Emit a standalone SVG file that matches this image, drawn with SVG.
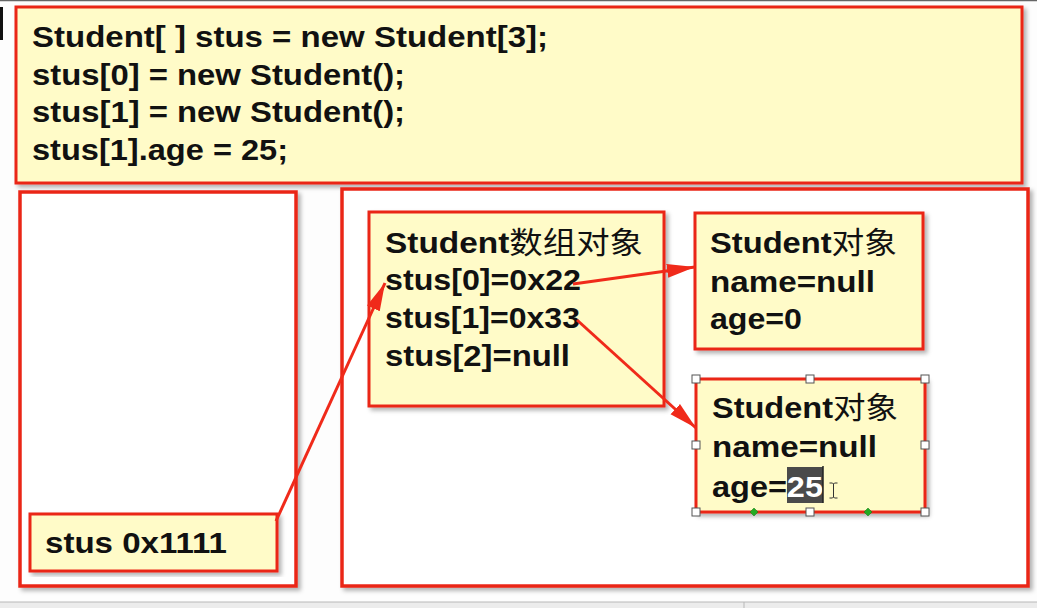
<svg xmlns="http://www.w3.org/2000/svg" width="1037" height="608" viewBox="0 0 1037 608">
<defs>
<filter id="sh" x="-5%" y="-5%" width="110%" height="115%">
<feDropShadow dx="3" dy="3" stdDeviation="2" flood-color="#000" flood-opacity="0.3"/>
</filter>
<marker id="ah" markerUnits="userSpaceOnUse" markerWidth="30" markerHeight="16" refX="28" refY="8" orient="auto">
<path d="M0,1 L28,8 L0,15 Z" fill="#F02A1A"/>
</marker>
<style>
.box{fill:#FFFBC8;stroke:#EA2619;stroke-width:3;filter:url(#sh)}
.frame{fill:#FFFFFF;stroke:#EA2619;stroke-width:3.5;filter:url(#sh)}
.t{font-family:"Liberation Sans",Arial,"Noto Sans CJK SC",sans-serif;font-size:30px;font-weight:bold;fill:#111}
.cjk{font-family:"Noto Sans CJK SC",sans-serif;font-weight:normal}
.conn{stroke:#F02A1A;stroke-width:3;fill:none;marker-end:url(#ah)}
.hd{fill:#fff;stroke:#555;stroke-width:1}
.gd{fill:#22AA22;stroke:#117711;stroke-width:0.5}
</style>
</defs>
<rect x="0" y="0" width="1037" height="608" fill="#FDFDFD"/>
<line x1="0" y1="0.5" x2="1037" y2="0.5" stroke="#666" stroke-width="1.5"/>
<rect x="0" y="7" width="3" height="33" fill="#111"/>
<rect x="0" y="602" width="1037" height="6" fill="#ECECEC"/>
<line x1="0" y1="602" x2="1037" y2="602" stroke="#B8B8B8" stroke-width="1"/>
<line x1="744" y1="602" x2="744" y2="608" stroke="#B8B8B8" stroke-width="1"/>

<g id="code">
<rect class="box" x="16" y="7" width="1006" height="176"/>
<text class="t" x="32" y="47" textLength="516" lengthAdjust="spacingAndGlyphs">Student[ ] stus = new Student[3];</text>
<text class="t" x="32" y="85" textLength="373" lengthAdjust="spacingAndGlyphs">stus[0] = new Student();</text>
<text class="t" x="32" y="122" textLength="373" lengthAdjust="spacingAndGlyphs">stus[1] = new Student();</text>
<text class="t" x="32" y="160" textLength="256" lengthAdjust="spacingAndGlyphs">stus[1].age = 25;</text>
</g>

<g id="stack">
<rect class="frame" x="20" y="192" width="276" height="394"/>
</g>

<g id="heap">
<rect class="frame" x="342" y="189" width="686" height="397"/>
</g>

<g id="stusVar">
<rect class="box" x="30" y="514" width="247" height="57"/>
<text class="t" x="45" y="553" textLength="182" lengthAdjust="spacingAndGlyphs">stus 0x1111</text>
</g>

<g id="arrayObj">
<rect class="box" x="369" y="212" width="295" height="194"/>
<text class="t" x="385" y="253" textLength="258" lengthAdjust="spacingAndGlyphs">Student<tspan class="cjk">数组对象</tspan></text>
<text class="t" x="385" y="290" textLength="196" lengthAdjust="spacingAndGlyphs">stus[0]=0x22</text>
<text class="t" x="385" y="328" textLength="195" lengthAdjust="spacingAndGlyphs">stus[1]=0x33</text>
<text class="t" x="385" y="366" textLength="185" lengthAdjust="spacingAndGlyphs">stus[2]=null</text>
</g>

<g id="student1">
<rect class="box" x="695" y="213" width="228" height="136"/>
<text class="t" x="710" y="253" textLength="187" lengthAdjust="spacingAndGlyphs">Student<tspan class="cjk">对象</tspan></text>
<text class="t" x="710" y="292" textLength="165" lengthAdjust="spacingAndGlyphs">name=null</text>
<text class="t" x="710" y="329" textLength="92" lengthAdjust="spacingAndGlyphs">age=0</text>
</g>

<g id="student2">
<rect class="box" x="696" y="379" width="229" height="133"/>
<text class="t" x="712" y="418" textLength="186" lengthAdjust="spacingAndGlyphs">Student<tspan class="cjk">对象</tspan></text>
<text class="t" x="712" y="457" textLength="165" lengthAdjust="spacingAndGlyphs">name=null</text>
<rect x="787" y="467" width="36" height="36" fill="#4A4A4A"/>
<text class="t" x="712" y="497" textLength="111" lengthAdjust="spacingAndGlyphs">age=<tspan fill="#FFFFFF">25</tspan></text>
<line x1="823" y1="466" x2="823" y2="503" stroke="#222" stroke-width="1.5"/>
<path d="M829.5,483 h3 l1,1 l1,-1 h3 M833.5,484 v13 M829.5,498 h3 l1,-1 l1,1 h3" fill="none" stroke="#333" stroke-width="1"/>
<rect class="hd" x="692" y="375" width="8" height="8"/>
<rect class="hd" x="806" y="375" width="8" height="8"/>
<rect class="hd" x="921" y="375" width="8" height="8"/>
<rect class="hd" x="692" y="441" width="8" height="8"/>
<rect class="hd" x="921" y="441" width="8" height="8"/>
<rect class="hd" x="692" y="508" width="8" height="8"/>
<rect class="hd" x="806" y="508" width="8" height="8"/>
<rect class="hd" x="921" y="508" width="8" height="8"/>
<path class="gd" d="M754,508 l4,4 l-4,4 l-4,-4 Z"/>
<path class="gd" d="M868,508 l4,4 l-4,4 l-4,-4 Z"/>
</g>

<g id="connectors">
<line class="conn" x1="276" y1="521" x2="385" y2="283"/>
<line class="conn" x1="573" y1="284" x2="695" y2="267"/>
<line class="conn" x1="577" y1="320" x2="696" y2="428"/>
</g>
</svg>
